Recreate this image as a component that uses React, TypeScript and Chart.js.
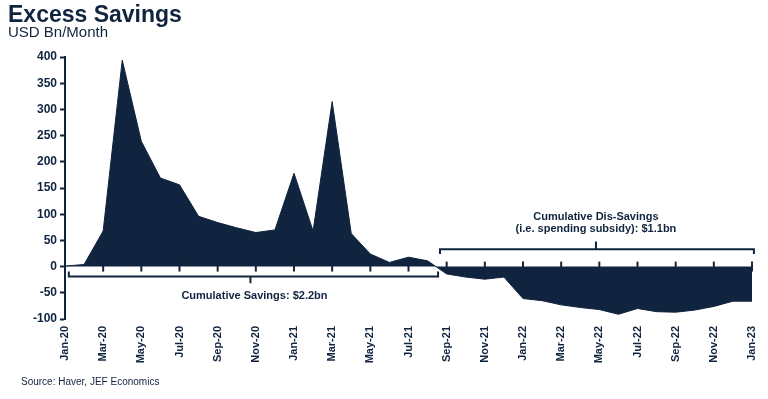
import React, { useEffect, useRef } from "react";
import { Chart, registerables } from "chart.js";

Chart.register(...registerables);

const NAVY = "#10243f";
const FONT = "'Liberation Sans', Arial, sans-serif";

const TITLE = "Excess Savings";
const SUBTITLE = "USD Bn/Month";
const SOURCE = "Source: Haver, JEF Economics";
const SAVINGS_NOTE = ["Cumulative Savings: $2.2bn"];
const DISSAVINGS_NOTE = ["Cumulative Dis-Savings", "(i.e. spending subsidy): $1.1bn"];

const months = [
  "Jan-20", "Feb-20", "Mar-20", "Apr-20", "May-20", "Jun-20", "Jul-20", "Aug-20", "Sep-20", "Oct-20", "Nov-20", "Dec-20",
  "Jan-21", "Feb-21", "Mar-21", "Apr-21", "May-21", "Jun-21", "Jul-21", "Aug-21", "Sep-21", "Oct-21", "Nov-21", "Dec-21",
  "Jan-22", "Feb-22", "Mar-22", "Apr-22", "May-22", "Jun-22", "Jul-22", "Aug-22", "Sep-22", "Oct-22", "Nov-22", "Dec-22",
  "Jan-23",
];

const excessSavings = [
  1, 4, 68, 394, 239, 169, 156, 96, 84, 74, 65, 70,
  178, 68, 315, 63, 24, 8, 18, 11, -14, -20, -24, -20,
  -61, -65, -73, -78, -82, -91, -80, -86, -87, -83, -76, -66,
  -66,
];

const yMin = -100;
const yMax = 400;
const yStep = 50;

// bracket spans expressed in category index / value units
const savingsBracket = { from: 0.2, to: 19.55, y: -19, end: -9.5, mid: -32 };
const dissavingsBracket = { from: 19.65, to: 36.1, y: 33, end: 24, mid: 48 };

const overlayPlugin = {
  id: "overlay",
  afterDatasetsDraw(chart: any) {
    const ctx = chart.ctx;
    const xs = chart.scales.x;
    const ys = chart.scales.y;
    ctx.save();
    ctx.strokeStyle = NAVY;
    ctx.fillStyle = NAVY;
    ctx.lineWidth = 2;
    // ticks on zero line every two months
    const y0 = ys.getPixelForValue(0);
    for (let i = 0; i < months.length; i += 2) {
      const x = xs.getPixelForValue(i);
      ctx.beginPath();
      ctx.moveTo(x, y0 - 5);
      ctx.lineTo(x, y0 + 5);
      ctx.stroke();
    }
    // savings bracket
    {
      const b = savingsBracket;
      const x1 = xs.getPixelForValue(b.from);
      const x2 = xs.getPixelForValue(b.to);
      const yy = ys.getPixelForValue(b.y);
      const ye = ys.getPixelForValue(b.end);
      const ym = ys.getPixelForValue(b.mid);
      const xm = (x1 + x2) / 2 - 3;
      ctx.beginPath();
      ctx.moveTo(x1, ye);
      ctx.lineTo(x1, yy);
      ctx.lineTo(x2, yy);
      ctx.lineTo(x2, ye);
      ctx.moveTo(xm, yy);
      ctx.lineTo(xm, ym);
      ctx.stroke();
      ctx.font = `bold 11px ${FONT}`;
      ctx.textAlign = "center";
      ctx.textBaseline = "alphabetic";
      ctx.fillText(SAVINGS_NOTE[0], (x1 + x2) / 2 + 1, ym + 16);
    }
    // dis-savings bracket
    {
      const b = dissavingsBracket;
      const x1 = xs.getPixelForValue(b.from);
      const x2 = xs.getPixelForValue(b.to);
      const yy = ys.getPixelForValue(b.y);
      const ye = ys.getPixelForValue(b.end);
      const ym = ys.getPixelForValue(b.mid);
      const xm = (x1 + x2) / 2 - 1;
      ctx.beginPath();
      ctx.moveTo(x1, ye);
      ctx.lineTo(x1, yy);
      ctx.lineTo(x2, yy);
      ctx.lineTo(x2, ye);
      ctx.moveTo(xm, yy);
      ctx.lineTo(xm, ym);
      ctx.stroke();
      ctx.font = `bold 11px ${FONT}`;
      ctx.textAlign = "center";
      ctx.textBaseline = "alphabetic";
      ctx.fillText(DISSAVINGS_NOTE[0], xm, ym - 21);
      ctx.fillText(DISSAVINGS_NOTE[1], xm, ym - 9);
    }
    // titles and source
    ctx.textAlign = "left";
    ctx.textBaseline = "alphabetic";
    ctx.font = `bold 23px ${FONT}`;
    ctx.fillText(TITLE, 8, 22);
    ctx.font = `15px ${FONT}`;
    ctx.fillText(SUBTITLE, 8, 37);
    ctx.font = `10px ${FONT}`;
    ctx.fillText(SOURCE, 21, 385);
    ctx.restore();
  },
};

export default function App() {
  const ref = useRef<HTMLCanvasElement | null>(null);
  useEffect(() => {
    if (!ref.current) return;
    const chart = new Chart(ref.current, {
      type: "line",
      data: {
        labels: months,
        datasets: [
          {
            data: excessSavings,
            borderColor: NAVY,
            backgroundColor: NAVY,
            borderWidth: 1,
            fill: "origin",
            pointRadius: 0,
            tension: 0,
          },
        ],
      },
      options: {
        animation: false,
        responsive: false,
        layout: { padding: { top: 57, right: 16, bottom: 0, left: 0 } },
        plugins: {
          legend: { display: false },
          tooltip: { enabled: false },
          title: { display: false },
        },
        scales: {
          x: {
            grid: { display: false, drawTicks: false },
            border: { display: false },
            ticks: {
              autoSkip: false,
              minRotation: 90,
              maxRotation: 90,
              padding: 7,
              color: NAVY,
              font: { family: FONT, size: 11, weight: "bold" },
              callback: (_v: any, i: number) => (i % 2 === 0 ? months[i] : ""),
            },
            afterFit: (s: any) => {
              s.height = 80;
              s.paddingLeft = 0;
              s.paddingRight = 0;
            },
          },
          y: {
            min: yMin,
            max: yMax,
            grid: { drawOnChartArea: false, drawTicks: true, tickLength: 5, tickColor: NAVY, tickWidth: 2 },
            border: { display: true, color: NAVY, width: 2 },
            ticks: {
              stepSize: yStep,
              padding: 3,
              color: NAVY,
              font: { family: FONT, size: 12, weight: "bold" },
            },
            afterFit: (s: any) => {
              s.width = 65;
            },
          },
        },
      },
      plugins: [overlayPlugin],
    });
    return () => chart.destroy();
  }, []);
  return (
    <div style={{ position: "absolute", left: 0, top: 0, width: 768, height: 399, background: "#fff" }}>
      <canvas ref={ref} width={768} height={399} />
    </div>
  );
}
